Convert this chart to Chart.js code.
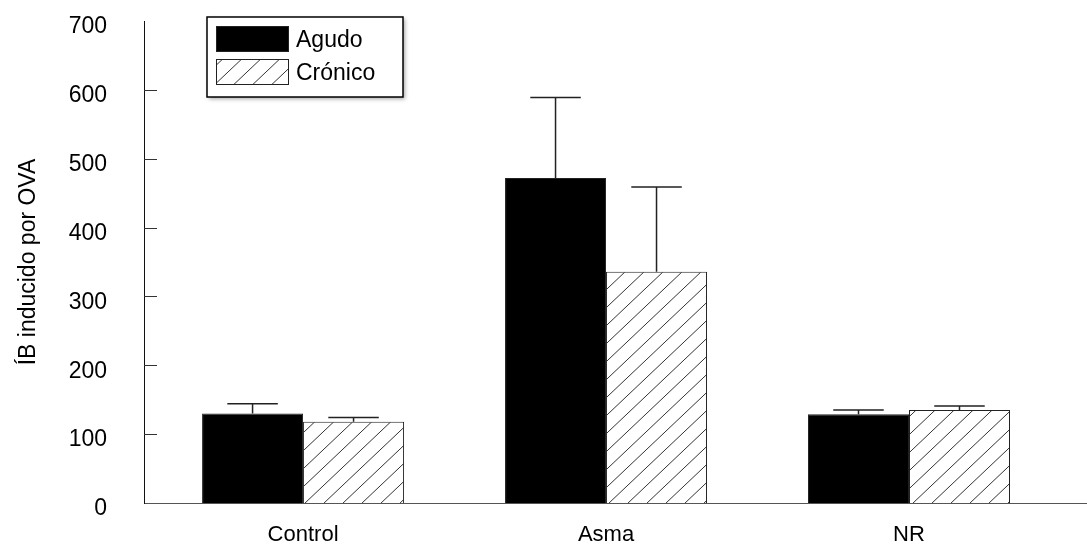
<!DOCTYPE html>
<html>
<head>
<meta charset="utf-8">
<script src="https://cdn.jsdelivr.net/npm/chart.js@4.4.1/dist/chart.umd.min.js"></script>
<style>
  html, body { margin: 0; padding: 0; background: #fff; }
  #wrap { width: 1087px; height: 546px; }
</style>
</head>
<body>
<div id="wrap"><canvas id="grafico"></canvas></div>
<script>
// datos
const categorias = ['Control', 'Asma', 'NR'];
const agudo = [130, 472, 129];
const agudoError = [14, 117, 6];
const cronico = [118, 336, 135];
const cronicoError = [6, 123, 6];
const yTicks = [0, 100, 200, 300, 400, 500, 600, 700];

Chart.defaults.font.family = "'Liberation Sans', Arial, sans-serif";
Chart.defaults.color = '#000';

function crearTrama() {
  const c = document.createElement('canvas');
  c.width = 19;
  c.height = 18;
  const g = c.getContext('2d');
  g.fillStyle = '#fff';
  g.fillRect(0, 0, c.width, c.height);
  g.strokeStyle = '#333';
  g.lineWidth = 1;
  g.beginPath();
  g.moveTo(0, c.height);
  g.lineTo(c.width, 0);
  g.stroke();
  return g.createPattern(c, 'repeat');
}

const ctx = document.getElementById('grafico').getContext('2d');
const trama = crearTrama();

const errores = [agudoError, cronicoError];

const barrasError = {
  id: 'barrasError',
  afterDatasetsDraw(chart) {
    const c = chart.ctx;
    const y = chart.scales.y;
    c.save();
    c.strokeStyle = '#222';
    c.lineWidth = 1.5;
    chart.data.datasets.forEach((ds, d) => {
      const meta = chart.getDatasetMeta(d);
      meta.data.forEach((bar, i) => {
        const top = y.getPixelForValue(ds.data[i].y + errores[d][i]);
        const half = bar.width / 4;
        c.beginPath();
        c.moveTo(bar.x, bar.y);
        c.lineTo(bar.x, top);
        c.moveTo(bar.x - half, top);
        c.lineTo(bar.x + half, top);
        c.stroke();
      });
    });
    c.restore();
  }
};

const marcasY = {
  id: 'marcasY',
  afterDraw(chart) {
    const c = chart.ctx;
    const y = chart.scales.y;
    const left = chart.chartArea.left;
    c.save();
    c.strokeStyle = '#333';
    c.lineWidth = 1;
    yTicks.slice(1, -1).forEach(v => {
      const py = Math.round(y.getPixelForValue(v)) + 0.5;
      c.beginPath();
      c.moveTo(left, py);
      c.lineTo(left + 13, py);
      c.stroke();
    });
    c.restore();
  }
};

const leyenda = {
  id: 'leyenda',
  afterDraw(chart) {
    const c = chart.ctx;
    c.save();
    c.shadowColor = 'rgba(0,0,0,0.35)';
    c.shadowBlur = 4;
    c.shadowOffsetX = 2;
    c.shadowOffsetY = 2;
    c.fillStyle = '#fff';
    c.fillRect(207, 17, 196, 80);
    c.restore();
    c.save();
    c.strokeStyle = '#000';
    c.lineWidth = 1.5;
    c.strokeRect(207, 17, 196, 80);
    c.font = "23px 'Liberation Sans', Arial, sans-serif";
    c.textBaseline = 'alphabetic';
    chart.data.datasets.forEach((ds, d) => {
      const top = 26 + d * 33;
      c.fillStyle = ds.backgroundColor;
      c.fillRect(216, top, 73, 26);
      c.strokeStyle = '#222';
      c.lineWidth = 1;
      c.strokeRect(216.5, top + 0.5, 72, 25);
      c.fillStyle = '#000';
      c.fillText(ds.label, 296, top + 21);
    });
    c.restore();
  }
};

const chart = new Chart(ctx, {
  type: 'bar',
  data: {
    datasets: [{
      label: 'Agudo',
      data: agudo.map((v, i) => ({ x: i + 1, y: v })),
      backgroundColor: '#000',
      borderColor: '#222',
      borderWidth: 1
    }, {
      label: 'Crónico',
      data: cronico.map((v, i) => ({ x: i + 1, y: v })),
      backgroundColor: trama,
      borderColor: '#222',
      borderWidth: 1
    }]
  },
  options: {
    responsive: true,
    maintainAspectRatio: false,
    animation: false,
    categoryPercentage: 2 / 3,
    barPercentage: 1,
    layout: { padding: { top: 21, right: 0, bottom: 0, left: 0 } },
    plugins: {
      legend: { display: false },
      tooltip: { enabled: false }
    },
    scales: {
      x: {
        type: 'linear',
        offset: false,
        min: 0.475,
        max: 3.5875,
        afterBuildTicks: s => { s.ticks = categorias.map((c, i) => ({ value: i + 1 })); },
        afterFit: s => { s.height = 43; s.paddingLeft = 0; s.paddingRight = 0; },
        ticks: {
          callback: v => categorias[v - 1],
          font: { size: 22 },
          color: '#000',
          padding: 19,
          autoSkip: false,
          maxRotation: 0
        },
        grid: { display: false, drawTicks: false },
        border: { display: true, color: '#555', width: 1 }
      },
      y: {
        min: 0,
        max: 700,
        afterBuildTicks: s => { s.ticks = yTicks.map(v => ({ value: v })); },
        afterFit: s => { s.width = 144; s.paddingTop = 0; s.paddingBottom = 0; },
        ticks: { font: { size: 23 }, color: '#000', padding: 37, labelOffset: 6 },
        grid: { display: false, drawTicks: false },
        border: { display: true, color: '#111', width: 1 },
        title: {
          display: true,
          text: 'ÍB inducido por OVA',
          font: { size: 23 },
          color: '#000',
          padding: { top: 15, bottom: 0 }
        }
      }
    }
  },
  plugins: [barrasError, marcasY, leyenda]
});
</script>
</body>
</html>
